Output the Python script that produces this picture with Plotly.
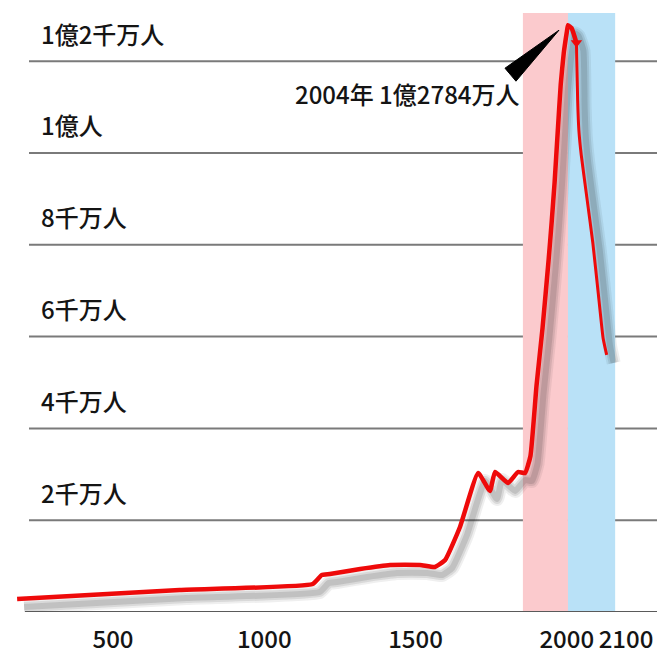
import plotly.graph_objects as go

# Population of Japan (units: 10,000 people) — historical series up to the 2004 peak
hist_years = [183, 720, 1160, 1190, 1217, 1317, 1416, 1515, 1564, 1598, 1647, 1707,
              1746, 1763, 1806, 1839, 1862, 1880, 1900, 1920, 1940, 1950, 1960,
              1970, 1980, 1990, 2000, 2004, 2010, 2018]
hist_pop = [283, 479, 610, 806, 828, 937, 1024, 1024, 980, 1133, 1852, 3028,
            2636, 3050, 2810, 3050, 3028, 3400, 4930, 6190, 7670, 8485, 9376,
            10450, 11488, 12175, 12626, 12784, 12720, 12400]

# Projected decline after the peak
proj_years = [2018, 2020, 2022, 2026, 2035, 2045, 2054, 2062, 2068]
proj_pop = [12400, 11150, 10500, 9950, 9050, 8050, 6950, 5970, 5600]

PEAK_YEAR = 2004
PEAK_POP = 12784

# Shaded periods: modern growth and the era after the peak
band_years = [1855, 2004, 2082]
band_colors = ["#fbcacd", "#b9e1f7"]

# Axis ticks
x_ticks = [500, 1000, 1500, 2000, 2100]
y_ticks = [2000, 4000, 6000, 8000, 10000, 12000]
y_labels = ["2千万人", "4千万人", "6千万人", "8千万人", "1億人", "1億2千万人"]

FUTURE_STRETCH = 2.0  # the years after the peak are drawn twice as wide


def to_axis(year):
    if year <= PEAK_YEAR:
        return year
    return PEAK_YEAR + FUTURE_STRETCH * (year - PEAK_YEAR)


W, H = 657, 654
MARGIN_B = 42
PLOT_H = H - MARGIN_B
X_RANGE = [126.4, 2298.3]
Y_RANGE = [0, 13333]

U_PER_PX = (X_RANGE[1] - X_RANGE[0]) / W
V_PER_PX = (Y_RANGE[1] - Y_RANGE[0]) / PLOT_H

FONT = "Noto Sans CJK JP, sans-serif"
TEXT_COLOR = "#141414"
RED = "#ee0a0a"

hx = [to_axis(y) for y in hist_years]
px_ = [to_axis(y) for y in proj_years]

fig = go.Figure()

# soft drop shadow under the curve (offset right and down)
dx, dy = 7 * U_PER_PX, 8 * V_PER_PX
all_x = hx + px_[1:]
all_y = hist_pop + proj_pop[1:]
for width, alpha in [(14, 0.07), (10, 0.10), (6, 0.13)]:
    fig.add_trace(go.Scatter(
        x=[v + dx for v in all_x], y=[v - dy for v in all_y],
        mode="lines", line=dict(color=f"rgba(30,30,30,{alpha})", width=width,
                                shape="spline", smoothing=0.4),
        hoverinfo="skip", showlegend=False))

# historical population
fig.add_trace(go.Scatter(
    x=hx, y=hist_pop, mode="lines",
    line=dict(color=RED, width=4.5, shape="spline", smoothing=0.4),
    showlegend=False))

# projection
fig.add_trace(go.Scatter(
    x=px_, y=proj_pop, mode="lines",
    line=dict(color=RED, width=3, shape="spline", smoothing=0.4),
    showlegend=False))

# arrow tip where the projection begins
fig.add_trace(go.Scatter(
    x=[px_[0]], y=[proj_pop[0]], mode="markers",
    marker=dict(symbol="triangle-down", size=10, color=RED),
    showlegend=False))

shapes = []
# period bands
for i, col in enumerate(band_colors):
    shapes.append(dict(type="rect", xref="x", yref="y",
                       x0=to_axis(band_years[i]), x1=to_axis(band_years[i + 1]),
                       y0=0, y1=13050, fillcolor=col, line_width=0, layer="below"))
# horizontal rules at each level
for v in y_ticks:
    shapes.append(dict(type="line", xref="paper", yref="y", x0=29 / W, x1=1,
                       y0=v, y1=v, line=dict(color="#7a7a7a", width=2), layer="below"))
# base line
shapes.append(dict(type="line", xref="paper", yref="y", x0=25 / W, x1=1,
                   y0=0, y1=0, line=dict(color="#5a5a5a", width=2), layer="above"))

# callout wedge pointing at the peak
peak_u = to_axis(PEAK_YEAR)
tip = (peak_u - 9 * U_PER_PX, PEAK_POP - 5 * V_PER_PX)
b1 = (peak_u - 63 * U_PER_PX, PEAK_POP - 43 * V_PER_PX)
b2 = (peak_u - 52 * U_PER_PX, PEAK_POP - 56 * V_PER_PX)
shapes.append(dict(type="path", xref="x", yref="y",
                   path=f"M {tip[0]},{tip[1]} L {b1[0]},{b1[1]} L {b2[0]},{b2[1]} Z",
                   fillcolor="black", line=dict(color="black", width=1)))

label_font = dict(family=FONT, size=24, color=TEXT_COLOR, weight=500)

annotations = []
for v, lab in zip(y_ticks, y_labels):
    annotations.append(dict(x=39 / W, xref="paper", y=v, yref="y", text=lab,
                            xanchor="left", yanchor="middle", yshift=28,
                            showarrow=False, font=label_font))

annotations.append(dict(x=b2[0], xref="x", y=PEAK_POP, yref="y",
                        text=f"{PEAK_YEAR}年 1億{PEAK_POP - 10000}万人",
                        xanchor="right", yanchor="middle", xshift=6, yshift=-68,
                        showarrow=False, font=label_font))

fig.update_layout(
    width=W, height=H,
    margin=dict(l=0, r=0, t=0, b=MARGIN_B),
    paper_bgcolor="white", plot_bgcolor="white",
    shapes=shapes, annotations=annotations,
    xaxis=dict(range=X_RANGE, tickvals=[to_axis(y) for y in x_ticks],
               ticktext=[str(y) for y in x_ticks], showgrid=False, zeroline=False,
               showline=False, ticks="", ticklabelstandoff=11,
               tickfont=label_font, fixedrange=True),
    yaxis=dict(range=Y_RANGE, showgrid=False, zeroline=False, showline=False,
               showticklabels=False, fixedrange=True),
)

fig.write_html("out.html")
